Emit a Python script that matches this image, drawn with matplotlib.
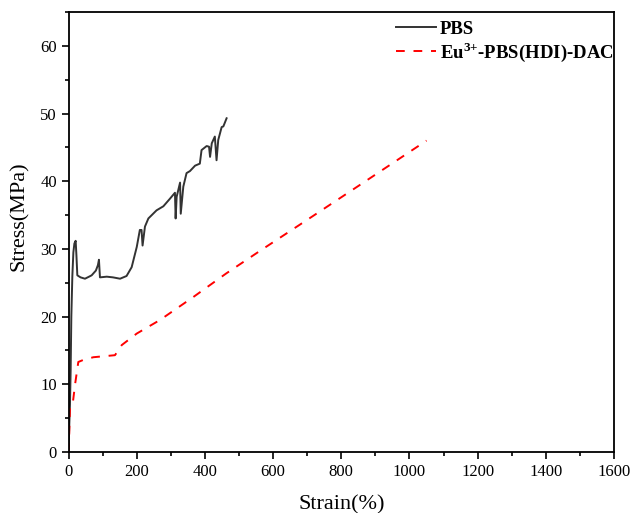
import matplotlib
matplotlib.use("Agg")
import matplotlib.pyplot as plt
from matplotlib.ticker import MultipleLocator

plt.rcParams['font.family'] = ['Liberation Serif', 'DejaVu Serif']
plt.rcParams['mathtext.fontset'] = 'custom'
plt.rcParams['mathtext.rm'] = 'Liberation Serif'
plt.rcParams['mathtext.bf'] = 'Liberation Serif:bold'

pbs_x = [0, 2, 4, 6, 8, 11, 14, 17, 20.7, 23, 25.6, 35, 48, 60, 67.6, 80, 86, 89, 92, 112,
         130, 151, 170, 185, 200, 209, 214, 217, 224, 234, 258, 278, 297, 312, 314, 317,
         327, 329, 336.5, 346, 356, 371, 385, 390, 405, 412, 415, 420, 429, 434, 439,
         449, 454, 463.5]
pbs_y = [0.5, 4.0, 7.0, 12.0, 20.0, 26.0, 29.5, 30.8, 31.2, 29.0, 26.1, 25.8, 25.6, 25.9,
         26.1, 26.8, 27.6, 28.4, 25.8, 25.9, 25.8, 25.6, 26.0, 27.3, 30.3, 32.8, 32.8,
         30.5, 33.3, 34.5, 35.7, 36.3, 37.4, 38.3, 34.5, 37.7, 39.8, 35.2, 39.2, 41.2,
         41.5, 42.3, 42.6, 44.6, 45.2, 45.1, 43.6, 45.6, 46.6, 43.1, 46.1, 48.0, 48.1,
         49.3]

eu_x = [0, 1, 4, 12, 19, 28.5, 43, 72.5, 136, 156, 200, 268, 366, 463, 561, 700, 850, 1050]
eu_y = [0, 1.2, 6.6, 7.1, 10.0, 13.3, 13.6, 14.0, 14.3, 15.8, 17.5, 19.5, 22.9, 26.4,
        29.7, 34.3, 39.3, 46.0]

fig = plt.figure(figsize=(6.33, 5.13), dpi=100)
ax = fig.add_axes([68.6 / 633, (513 - 452) / 513, (614 - 68.6) / 633, (452 - 12) / 513])

ax.plot(pbs_x, pbs_y, color='#333333', lw=1.4, label='PBS')
ax.plot(eu_x, eu_y, color='#ff0000', lw=1.4, ls=(0, (4.5, 4.5)),
        label=r'Eu$^{\mathbf{3{+}}}$-PBS(HDI)-DAC')

ax.set_xlim(0, 1600)
ax.set_ylim(0, 65)
ax.xaxis.set_major_locator(MultipleLocator(200))
ax.xaxis.set_minor_locator(MultipleLocator(100))
ax.yaxis.set_major_locator(MultipleLocator(10))
ax.yaxis.set_minor_locator(MultipleLocator(5))
ax.tick_params(which='both', direction='out', top=False, right=False, labelsize=12)
ax.tick_params(which='major', length=5, width=1.2)
ax.tick_params(which='minor', length=3, width=1.2)
for s in ax.spines.values():
    s.set_linewidth(1.3)

ax.set_xlabel('Strain(%)', fontsize=16, labelpad=11)
ax.set_ylabel('Stress(MPa)', fontsize=16)
ax.yaxis.set_label_coords(-0.073, 0.535)

leg = ax.legend(loc='upper left', frameon=False, prop={'weight': 'bold', 'size': 13.5},
                handlelength=2.1, handletextpad=0.2, borderaxespad=0, borderpad=0,
                labelspacing=0.12, bbox_to_anchor=(0.601, 0.98))

fig.savefig('out.png', dpi=100)
